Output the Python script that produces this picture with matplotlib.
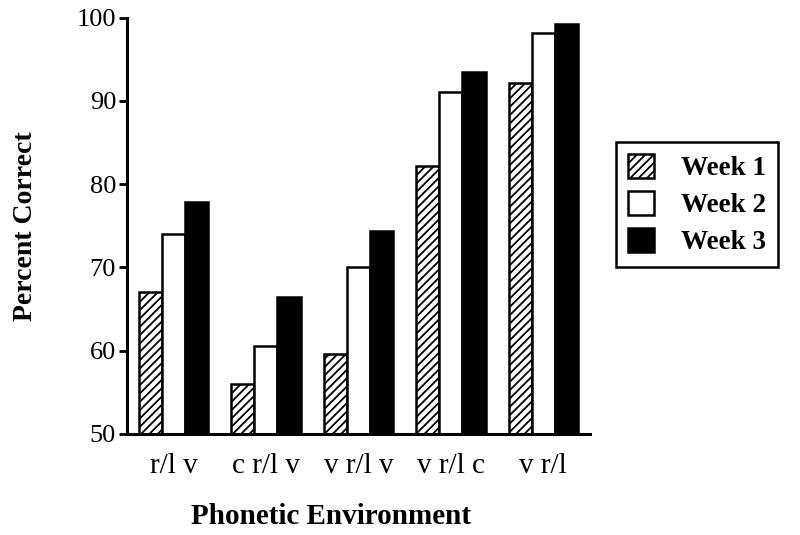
import numpy as np
import matplotlib
matplotlib.use("Agg")
import matplotlib.pyplot as plt

# Datos
categorias = ["r/l v", "c r/l v", "v r/l v", "v r/l c", "v r/l"]
semana1 = [67.0, 56.0, 59.6, 82.2, 92.2]
semana2 = [74.0, 60.5, 70.0, 91.1, 98.2]
semana3 = [77.8, 66.5, 74.4, 93.5, 99.2]
etiquetas = ["Week 1", "Week 2", "Week 3"]

plt.rcParams["font.family"] = ["Liberation Serif", "DejaVu Serif"]
plt.rcParams["hatch.linewidth"] = 1.3
plt.rcParams["hatch.color"] = "black"

fig = plt.figure(figsize=(8, 5.35), dpi=100)
ax = fig.add_axes([0.159, 0.189, 0.578, 0.778])

x = np.arange(len(categorias))
ancho = 0.25

b1 = ax.bar(x - ancho, semana1, ancho, color="white", edgecolor="black",
            hatch="////", linewidth=1.8, label=etiquetas[0])
b2 = ax.bar(x, semana2, ancho, color="white", edgecolor="black",
            linewidth=1.8, label=etiquetas[1])
b3 = ax.bar(x + ancho, semana3, ancho, color="black", edgecolor="black",
            linewidth=1.8, label=etiquetas[2])

ax.set_ylim(50, 100)
ax.set_xlim(-0.5, 4.5)
ax.set_yticks([50, 60, 70, 80, 90, 100])
ax.set_xticks(x)
ax.set_xticklabels(categorias, fontsize=21)
ax.tick_params(axis="x", length=0, pad=14)
ax.tick_params(axis="y", length=6, width=2, labelsize=19, pad=2)

for lado in ["top", "right"]:
    ax.spines[lado].set_visible(False)
for lado in ["left", "bottom"]:
    ax.spines[lado].set_linewidth(2.2)

ax.set_ylabel("Percent Correct", fontsize=20, fontweight="bold", labelpad=28)
ax.set_xlabel("Phonetic Environment", fontsize=21, fontweight="bold")
ax.xaxis.set_label_coords(0.44, -0.165)

leg = fig.legend(handles=[b1, b2, b3], labels=etiquetas,
                 loc="upper left", bbox_to_anchor=(0.77, 0.735),
                 prop={"weight": "bold", "size": 19.5},
                 fancybox=False, edgecolor="black", framealpha=1,
                 handlelength=0.95, handleheight=1.0, handletextpad=1.0,
                 labelspacing=0.35, borderpad=0.45, borderaxespad=0)
leg.get_frame().set_linewidth(1.8)

plt.savefig("out.png", dpi=100)
plt.close(fig)
